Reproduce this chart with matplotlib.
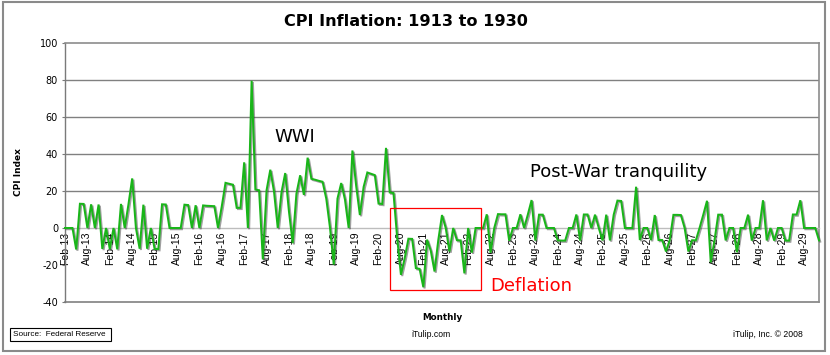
import matplotlib
matplotlib.use("Agg")
import matplotlib.pyplot as plt
import matplotlib.patheffects as pe
from matplotlib.patches import Rectangle

# ---------------- data (monthly CPI inflation, annualised %, Feb-1913 .. Dec-1929)
v1913 = [0, 0, 0, -11.6, 13.1, 13.0, 0, 12.8, 0, 12.7, -11.3]
v1914 = [0, -11.4, 0, -11.5, 13.0, 0, 12.8, 26.8, 0, -11.2, 12.6, -11.2]
v1915 = [0, -11.3, -11.4, 12.8, 12.7, 0, 0, 0, 0, 12.6, 12.4, 0]
v1916 = [12.3, 0, 12.2, 12.0, 11.9, 11.8, 0, 11.7, 24.4, 23.9, 23.4, 10.9]
v1917 = [10.9, 35.5, 0, 79.6, 20.8, 20.4, -17.0, 20.4, 31.5, 19.6, 0, 19.3]
v1918 = [29.7, 8.9, -8.2, 18.6, 28.5, 17.9, 38.0, 26.6, 26.1, 25.5, 25.0, 15.8]
v1919 = [0, -19.8, 15.9, 24.3, 15.4, 0, 41.9, 22.8, 7.0, 22.2, 30.0, 29.3]
v1920 = [28.6, 13.2, 13.0, 43.3, 19.2, 18.9, -5.6, -25.3, -16.4, -5.8, -5.9, -21.7]
v1921 = [-22.1, -32.0, -6.3, -12.4, -23.5, -6.6, 7.0, 0, -12.7, 0, -6.6, -6.7]
v1922 = [-24.5, 0, -13.3, 0, 0, 0, 7.4, -13.4, 0, 7.5, 7.4, 7.4]
v1923 = [-6.9, 0, 0, 7.4, 0, 7.3, 15.1, -6.8, 7.2, 7.2, 0, 0]
v1924 = [0, -6.7, -6.8, -6.8, 0, 0, 7.3, -6.8, 7.3, 7.3, 0, 7.2]
v1925 = [0, -6.7, 7.2, -6.7, 7.2, 14.8, 14.6, 0, 0, 0, 22.3, -6.5]
v1926 = [0, 0, -6.5, 7.0, -6.5, -6.5, -12.7, -6.6, 7.1, 7.1, 7.0, 0]
v1927 = [-12.7, -6.6, -6.7, 0, 7.2, 14.7, -18.6, -6.7, 7.2, 7.2, -6.7, 0]
v1928 = [0, -13.1, 0, 0, 7.2, -6.8, 0, 0, 15.0, -6.7, 0, -6.8]
v1929 = [0, 0, -6.8, -6.8, 7.3, 7.3, 15.0, 0, 0, 0, 0, -6.7]

values = (v1913 + v1914 + v1915 + v1916 + v1917 + v1918 + v1919 + v1920 + v1921
          + v1922 + v1923 + v1924 + v1925 + v1926 + v1927 + v1928 + v1929)

tick_labels = ["Feb-13", "Aug-13", "Feb-14", "Aug-14", "Feb-15", "Aug-15", "Feb-16",
               "Aug-16", "Feb-17", "Aug-17", "Feb-18", "Aug-18", "Feb-19", "Aug-19",
               "Feb-20", "Aug-20", "Feb-21", "Aug-21", "Feb-22", "Aug-22", "Feb-23",
               "Aug-23", "Feb-24", "Aug-24", "Feb-25", "Aug-25", "Feb-26", "Aug-26",
               "Feb-27", "Aug-27", "Feb-28", "Aug-28", "Feb-29", "Aug-29"]
y_ticks = [-40, -20, 0, 20, 40, 60, 80, 100]
grid_levels = [20, 40, 60, 80]

# ---------------- layout helpers (pixel -> figure fraction)
W, H = 830, 355


def fx(x):
    return x / W


def fy(y):
    return 1 - y / H


fig = plt.figure(figsize=(8.3, 3.55), dpi=100)
fig.patch.set_facecolor("white")

L, R, T, B = 65, 819, 43, 302
ax = fig.add_axes([fx(L), fy(B), (R - L) / W, (B - T) / H])
ax.set_facecolor("white")

n = len(values)
xs = list(range(n))
ax.set_xlim(0, n - 1)
ax.set_ylim(-40, 100)

# gridlines
for g in grid_levels:
    ax.axhline(g, color="#808080", lw=1.0, zorder=1)
ax.axhline(-40, color="#808080", lw=1.2, zorder=1, clip_on=False)

# spines
ax.spines["bottom"].set_position(("data", 0))
ax.spines["bottom"].set_color("#bdbdbd")
ax.spines["bottom"].set_linewidth(1.0)
ax.spines["top"].set_color("#8c8c8c")
ax.spines["top"].set_linewidth(1.2)
ax.spines["right"].set_color("#8c8c8c")
ax.spines["right"].set_linewidth(1.2)
ax.spines["left"].set_color("#7a7a7a")
ax.spines["left"].set_linewidth(1.0)

# y axis
ax.set_yticks(y_ticks)
ax.set_yticklabels([str(v) for v in y_ticks], fontsize=7.0, family="DejaVu Sans")
ax.tick_params(axis="y", direction="out", length=2.5, width=0.8, color="#7a7a7a", pad=2.5)

# x axis (labels hang under the zero line)
ax.set_xticks(list(range(0, n, 6))[:len(tick_labels)])
ax.set_xticklabels(tick_labels, rotation=90, fontsize=7.5, family="Liberation Sans")
ax.tick_params(axis="x", length=0, pad=2.5)

# series
ax.plot(xs, values, color="#19B519", lw=1.45, zorder=3, clip_on=False,
        solid_joinstyle="miter",
        path_effects=[pe.SimpleLineShadow(offset=(0.9, -0.9), shadow_color="#404040", alpha=0.5),
                      pe.Normal()])

# ---------------- texts
fig.text(fx(406), fy(21), "CPI Inflation: 1913 to 1930", ha="center", va="center",
         fontsize=11.6, fontweight="bold", family="DejaVu Sans")
fig.text(fx(18.5), fy(172.5), "CPI Index", rotation=90, ha="center", va="center",
         fontsize=6.5, fontweight="bold", family="DejaVu Sans")
fig.text(fx(442), fy(317), "Monthly", ha="center", va="center",
         fontsize=6.3, fontweight="bold", family="DejaVu Sans")

fig.text(fx(274), fy(142.3), "WWI", ha="left", va="baseline", fontsize=13, family="DejaVu Sans")
fig.text(fx(530), fy(176.7), "Post-War tranquility", ha="left", va="baseline",
         fontsize=13, family="DejaVu Sans")
fig.text(fx(490.7), fy(291), "Deflation", ha="left", va="baseline", fontsize=13,
         color="#FF0000", family="DejaVu Sans")

# red highlight box
fig.patches.append(Rectangle((fx(390), fy(290)), fx(480.7) - fx(390), fy(208.3) - fy(290),
                             transform=fig.transFigure, fill=False, edgecolor="#FF0000", lw=0.9))

# footer
fig.patches.append(Rectangle((fx(10), fy(341)), fx(111) - fx(10), fy(328) - fy(341),
                             transform=fig.transFigure, fill=False, edgecolor="black", lw=0.8))
fig.text(fx(12.5), fy(334.6), "Source:  Federal Reserve", ha="left", va="center",
         fontsize=5.9, family="Liberation Sans")
fig.text(fx(431), fy(334.6), "iTulip.com", ha="center", va="center",
         fontsize=6.2, family="Liberation Sans")
fig.text(fx(803), fy(334.6), "iTulip, Inc. \u00a9 2008", ha="right", va="center",
         fontsize=6.2, family="Liberation Sans")

# outer chart border
fig.patches.append(Rectangle((fx(3), fy(351)), fx(825) - fx(3), fy(2) - fy(351),
                             transform=fig.transFigure, fill=False, edgecolor="#8a8a8a", lw=1.5))

fig.savefig("out.png", dpi=100, facecolor="white")
